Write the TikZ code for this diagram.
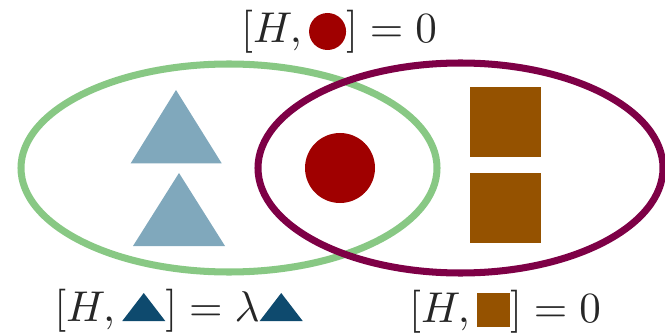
\documentclass[tikz,border=0pt]{standalone}
\usepackage{amsmath}
\usepackage{tikz}

\definecolor{setgreen}{HTML}{88C884}
\definecolor{setpurple}{HTML}{7E0046}
\definecolor{trilight}{HTML}{80A8BC}
\definecolor{tridark}{HTML}{0E4A6E}
\definecolor{dotred}{HTML}{A00000}
\definecolor{sqbrown}{HTML}{955200}

% small symbols used inside the labels (units: picture pixels inside a 2.45x box)
\newcommand{\symdot}{\tikz[baseline=0pt, x=0.2323pt, y=0.2323pt]\fill[dotred] (18.5,11.5) ellipse [x radius=18.5, y radius=18.5];}
\newcommand{\symtri}{\tikz[baseline=0pt, x=0.2323pt, y=0.2323pt]\fill[tridark] (0,0) -- (21.5,28) -- (43,0) -- cycle;}
\newcommand{\symsq}{\tikz[baseline=0pt, x=0.2323pt, y=0.2323pt]\fill[sqbrown] (0,-4) rectangle (33,30);}
\newcommand{\biglabel}[1]{\scalebox{2.45}{$#1$}}

\begin{document}
\begin{tikzpicture}[x=0.02cm, y=-0.02cm,
    setline/.style={line width=4pt},
    lbl/.style={text=black!85, inner sep=0pt, font=\normalsize}]
  \useasboundingbox (0,0) rectangle (665,334);
  % Left set
  \draw[setline, setgreen] (229,168) ellipse [x radius=208, y radius=104];
  % Right set
  \draw[setline, setpurple] (460.5,168) ellipse [x radius=202.5, y radius=105];
  % Triangles
  \fill[trilight] (130.7,163.3) -- (176,90) -- (221.7,163.3) -- cycle;
  \fill[trilight] (133,246) -- (179,173) -- (225,246) -- cycle;
  % Shared element
  \fill[dotred] (340,168) circle (35);
  % Squares
  \fill[sqbrown] (470,86.7) rectangle (541,157);
  \fill[sqbrown] (470,172.7) rectangle (541,243);

  % Commutators
  \node[lbl, anchor=base] (toplbl) at (339,43) {\biglabel{[H,\symdot] = 0}};
  \node[lbl, anchor=base] (leftlbl) at (178.5,321) {\biglabel{[H,\symtri] = \lambda\symtri}};
  \node[lbl, anchor=base] (rightlbl) at (505,322.5) {\biglabel{[H,\symsq] = 0}};
\end{tikzpicture}
\end{document}
